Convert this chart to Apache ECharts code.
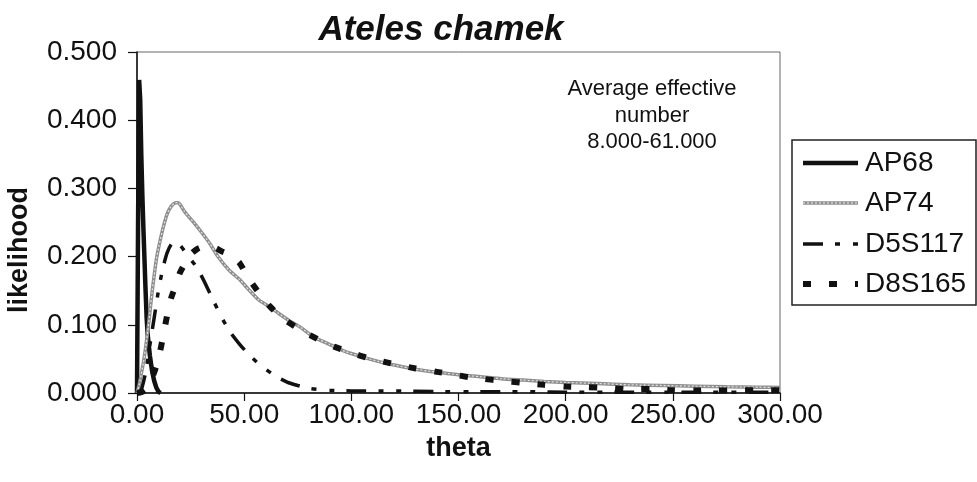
<!DOCTYPE html>
<html>
<head>
<meta charset="utf-8">
<script src="https://cdn.jsdelivr.net/npm/echarts@6/dist/echarts.min.js"></script>
<style>
  html, body { margin: 0; padding: 0; background: #fff; }
  #chart { width: 977px; height: 482px; }
</style>
</head>
<body>
<div id="chart"></div>
<script>
// Likelihood curves of theta for four microsatellite loci (Ateles chamek)
const seriesNames = ['AP68', 'AP74', 'D5S117', 'D8S165'];

const thetaAP68 = [0, 0.5, 1, 1.5, 2, 2.5, 3, 3.5, 4, 4.5, 5, 6, 7, 8, 9, 10, 11];
const likAP68   = [0, 0.25, 0.459, 0.43, 0.35, 0.29, 0.24, 0.195, 0.15, 0.11, 0.085, 0.055, 0.033, 0.018, 0.008, 0.002, 0];

const thetaAP74 = [0, 1, 2, 3, 4, 5, 6, 7, 8, 9, 10, 12, 14, 16, 18, 19, 20, 22, 24, 27, 30, 34, 38, 43, 48, 52, 57, 62, 66, 71, 76, 82, 90, 97, 105, 113, 120, 128, 136, 144, 152, 160, 170, 180, 190, 200, 215, 230, 245, 260, 275, 290, 300];
const likAP74   = [0, 0.012, 0.028, 0.045, 0.066, 0.09, 0.118, 0.147, 0.172, 0.195, 0.212, 0.24, 0.262, 0.274, 0.279, 0.279, 0.277, 0.267, 0.259, 0.248, 0.236, 0.219, 0.199, 0.18, 0.166, 0.152, 0.136, 0.126, 0.117, 0.106, 0.097, 0.083, 0.071, 0.061, 0.053, 0.046, 0.041, 0.036, 0.032, 0.029, 0.026, 0.024, 0.021, 0.019, 0.017, 0.0155, 0.014, 0.012, 0.011, 0.010, 0.009, 0.0085, 0.008];

const thetaD5S117 = [0, 2, 4, 6, 8, 10, 12, 14, 16, 18, 20, 22, 24, 27, 30, 33, 36, 40, 44, 48, 52, 56, 60, 65, 70, 75, 80, 85, 90, 100, 120, 140, 160, 180, 200, 230, 260, 300];
const likD5S117   = [0, 0.005, 0.03, 0.07, 0.11, 0.15, 0.182, 0.205, 0.218, 0.221, 0.217, 0.209, 0.2, 0.188, 0.172, 0.153, 0.133, 0.108, 0.087, 0.071, 0.057, 0.045, 0.035, 0.024, 0.016, 0.011, 0.007, 0.005, 0.004, 0.003, 0.003, 0.002, 0.002, 0.002, 0.001, 0.001, 0.001, 0.001];

const thetaD8S165 = [0, 2, 4, 6, 8, 10, 12, 14, 16, 18, 20, 22, 25, 28, 31, 34, 37, 40, 44, 48, 52, 55, 58, 62, 66, 70, 75, 80, 85, 92, 100, 108, 115, 122, 130, 140, 148, 155, 162, 170, 180, 190, 200, 210, 220, 230, 240, 250, 260, 270, 280, 290, 300];
const likD8S165   = [0, 0.001, 0.005, 0.015, 0.03, 0.05, 0.08, 0.113, 0.14, 0.157, 0.176, 0.188, 0.203, 0.211, 0.2145, 0.2148, 0.212, 0.207, 0.202, 0.19, 0.168, 0.155, 0.142, 0.127, 0.115, 0.105, 0.095, 0.086, 0.078, 0.068, 0.059, 0.051, 0.046, 0.041, 0.036, 0.031, 0.027, 0.023, 0.0205, 0.018, 0.015, 0.012, 0.0095, 0.0085, 0.0075, 0.0055, 0.006, 0.004, 0.0035, 0.0035, 0.004, 0.004, 0.004];

const pairs = (xs, ys) => xs.map((x, i) => [x, ys[i]]);

const FONT = 'Liberation Sans, Arial, sans-serif';
const INK = '#111';

// line looks shared by the plotted series and the legend samples
const styles = {
  AP68:   { color: INK, width: 4.5 },
  AP74:   { color: '#8e8e8e', width: 3.5 },
  D5S117: { color: INK, width: 3.5, type: [20, 12, 5, 13, 5, 12] },
  D8S165: { color: INK, width: 6, type: [8, 18] }
};
const stipple = { color: '#e4e4e4', width: 1.2, type: [2, 2] };

// hand-built legend box on the right
const legendBox = { x: 792, y: 140, w: 184, h: 165 };
const legendRows = [163, 203, 244, 284];
const legendGraphics = [{
  type: 'rect',
  shape: { x: legendBox.x, y: legendBox.y, width: legendBox.w, height: legendBox.h },
  style: { fill: '#fff', stroke: '#222', lineWidth: 1.5 }, z: 10
}];
seriesNames.forEach((name, i) => {
  const s = styles[name];
  const y = legendRows[i];
  legendGraphics.push({
    type: 'line', shape: { x1: 803, y1: y, x2: 858, y2: y }, z: 11,
    style: { stroke: s.color, lineWidth: s.width, lineDash: s.type || null }
  });
  if (name === 'AP74') {
    legendGraphics.push({
      type: 'line', shape: { x1: 803, y1: y, x2: 858, y2: y }, z: 12,
      style: { stroke: stipple.color, lineWidth: stipple.width, lineDash: stipple.type }
    });
  }
  legendGraphics.push({
    type: 'text', x: 865, y: y, z: 11,
    style: { text: name, font: '28px ' + FONT, fill: INK, verticalAlign: 'middle', align: 'left' }
  });
});

const chart = echarts.init(document.getElementById('chart'), null, { renderer: 'canvas' });

chart.setOption({
  animation: false,
  backgroundColor: '#ffffff',
  title: {
    text: 'Ateles chamek',
    left: 436, top: 8, textAlign: 'center',
    textStyle: { fontFamily: FONT, fontSize: 35, fontWeight: 'bold', fontStyle: 'italic', color: INK }
  },
  grid: {
    left: 137, right: 197, top: 52, bottom: 89,
    outerBoundsMode: 'none', containLabel: false,
    show: true, borderColor: '#666', borderWidth: 1, backgroundColor: 'transparent'
  },
  xAxis: {
    type: 'value', min: 0, max: 300, interval: 50,
    name: 'theta', nameLocation: 'middle', nameGap: 42,
    nameTextStyle: { fontFamily: FONT, fontSize: 27, fontWeight: 'bold', color: INK },
    axisLine: { lineStyle: { color: INK, width: 1.5 } },
    axisTick: { show: true, length: 8, lineStyle: { color: INK, width: 1.2 } },
    axisLabel: { margin: 8, fontFamily: FONT, fontSize: 28, color: INK, formatter: v => v.toFixed(2) },
    splitLine: { show: false }
  },
  yAxis: {
    type: 'value', min: 0, max: 0.5, interval: 0.1,
    axisLine: { show: true, lineStyle: { color: INK, width: 1.5 } },
    axisTick: { show: true, length: 9, lineStyle: { color: INK, width: 1.2 } },
    axisLabel: { margin: 20, fontFamily: FONT, fontSize: 28, color: INK, formatter: v => v.toFixed(3) },
    splitLine: { show: false }
  },
  graphic: [
    {
      type: 'text', x: 20, y: 250, rotation: Math.PI / 2,
      style: { text: 'likelihood', font: 'bold 27px ' + FONT, fill: INK, align: 'center', verticalAlign: 'middle' }
    },
    {
      type: 'text', x: 652, y: 76,
      style: {
        text: 'Average effective\nnumber\n8.000-61.000',
        font: '22px ' + FONT, fill: INK, align: 'center', lineHeight: 26.5
      }
    }
  ].concat(legendGraphics),
  series: [
    {
      name: 'AP68', type: 'line', data: pairs(thetaAP68, likAP68),
      symbol: 'none', smooth: false, z: 2, lineStyle: styles.AP68
    },
    {
      name: 'AP74', type: 'line', data: pairs(thetaAP74, likAP74),
      symbol: 'none', smooth: 0.2, z: 3, lineStyle: styles.AP74
    },
    {
      // light stipple running down the middle of the AP74 line
      name: 'AP74 texture', type: 'line', data: pairs(thetaAP74, likAP74),
      symbol: 'none', smooth: 0.2, z: 3, silent: true, lineStyle: stipple
    },
    {
      name: 'D5S117', type: 'line', data: pairs(thetaD5S117, likD5S117),
      symbol: 'none', smooth: 0.2, z: 4, lineStyle: styles.D5S117
    },
    {
      name: 'D8S165', type: 'line', data: pairs(thetaD8S165, likD8S165),
      symbol: 'none', smooth: 0.2, z: 5, lineStyle: styles.D8S165
    }
  ]
});
</script>
</body>
</html>
